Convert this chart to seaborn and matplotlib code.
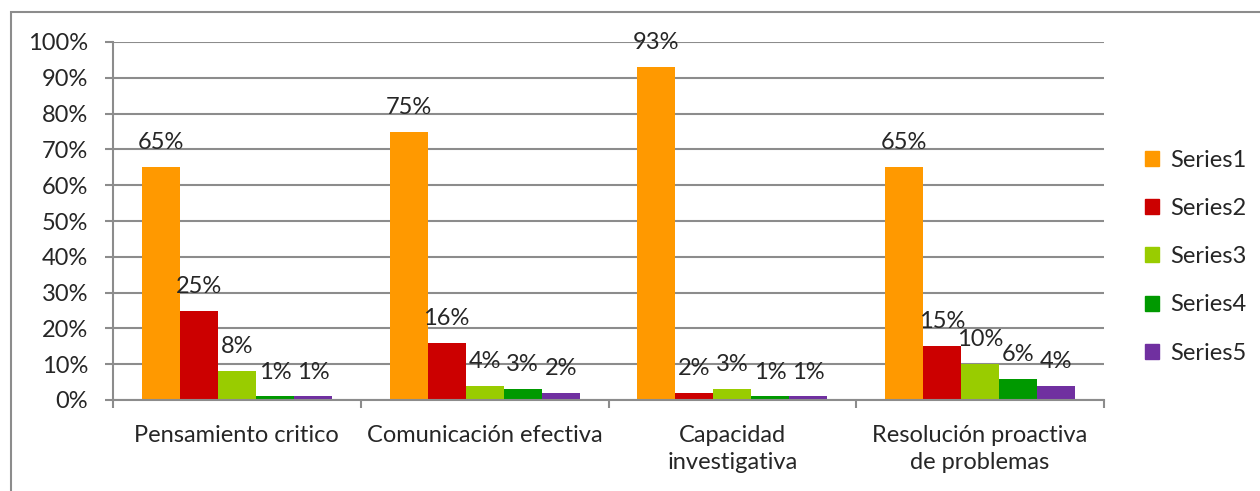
import matplotlib
matplotlib.use("Agg")
import matplotlib.pyplot as plt
import matplotlib.patches as mpatches
import seaborn as sns
import pandas as pd
import numpy as np

# data
categories = ["Pensamiento critico", "Comunicación efectiva",
              "Capacidad\ninvestigativa", "Resolución proactiva\nde problemas"]
series_names = ["Series1", "Series2", "Series3", "Series4", "Series5"]
series1 = [65, 75, 93, 65]
series2 = [25, 16, 2, 15]
series3 = [8, 4, 3, 10]
series4 = [1, 3, 1, 6]
series5 = [1, 2, 1, 4]
colors = ["#FF9900", "#CC0000", "#99CC00", "#009900", "#7030A0"]

rows = []
for name, vals in zip(series_names, [series1, series2, series3, series4, series5]):
    for cat, v in zip(categories, vals):
        rows.append({"category": cat, "series": name, "value": v})
df = pd.DataFrame(rows)

sns.set_style("white")
plt.rcParams['font.family'] = ['Lato', 'DejaVu Sans']
fs = 17

fig = plt.figure(figsize=(12.6, 4.91), dpi=100)
ax = fig.add_axes([113 / 1260, 1 - 400 / 491, 991 / 1260, 358 / 491])

sns.barplot(data=df, x="category", y="value", hue="series", order=categories,
            hue_order=series_names, palette=colors, width=0.767, gap=0,
            linewidth=0, saturation=1, ax=ax, legend=True)

grid_col = "#8C8C8C"
ax.set_ylim(0, 100)
ax.set_xlim(-0.5, 3.5)
ax.set_yticks(np.arange(0, 101, 10))
ax.set_yticklabels([f"{v}%" for v in range(0, 101, 10)])
ax.yaxis.grid(True, color=grid_col, linewidth=1.5)
ax.set_axisbelow(True)
ax.set_xlabel("")
ax.set_ylabel("")

for side in ["top", "right"]:
    ax.spines[side].set_visible(False)
for side in ["left", "bottom"]:
    ax.spines[side].set_color(grid_col)
    ax.spines[side].set_linewidth(1.5)

ax.tick_params(axis="y", left=True, length=6, width=1.5, color=grid_col,
               pad=12, labelsize=fs)
ax.set_xticks(np.arange(-0.5, 4, 1), minor=True)
ax.tick_params(axis="x", which="minor", bottom=True, length=6, width=1.5,
               color=grid_col)
ax.tick_params(axis="x", which="major", length=0, pad=18, labelsize=fs)
for lbl in ax.get_xticklabels():
    lbl.set_linespacing(1.35)

for cont in ax.containers:
    ax.bar_label(cont, labels=[f"{v:.0f}%" for v in cont.datavalues],
                 padding=10, fontsize=fs)

handles = [mpatches.Patch(color=c) for c in colors]
ax.legend(handles, series_names, loc="center left", bbox_to_anchor=(1.02, 0.40),
          frameon=False, fontsize=fs, handlelength=0.6, handleheight=0.6,
          labelspacing=1.15, handletextpad=0.45)

# outer chart border
border = mpatches.Rectangle((11 / 1260, -0.05), 1.1, 1 - 12 / 491 + 0.05,
                            transform=fig.transFigure, fill=False,
                            edgecolor=grid_col, linewidth=1.5, clip_on=False)
fig.patches.append(border)

plt.savefig("out.png", dpi=100)
